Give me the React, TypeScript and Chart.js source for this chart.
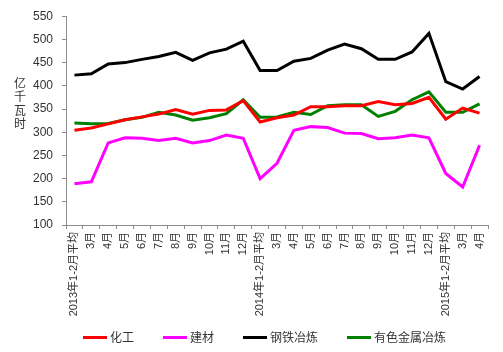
import React, { useEffect, useRef } from "react";
import { Chart, registerables } from "chart.js";

Chart.register(...registerables);

const categories: string[] = [
  "2013年1-2月平均", "3月", "4月", "5月", "6月", "7月", "8月", "9月", "10月", "11月", "12月",
  "2014年1-2月平均", "3月", "4月", "5月", "6月", "7月", "8月", "9月", "10月", "11月", "12月",
  "2015年1-2月平均", "3月", "4月",
];

const chemical: number[] = [304, 309, 318, 327, 333, 339, 349, 339, 347, 348, 368, 322, 331, 337, 355, 355, 357, 357, 366, 359, 362, 375, 328, 352, 341];
const building: number[] = [189, 193, 277, 288, 287, 282, 287, 277, 282, 294, 287, 200, 233, 304, 312, 310, 298, 297, 286, 288, 294, 288, 211, 182, 272];
const steel: number[] = [423, 426, 447, 450, 457, 463, 472, 455, 471, 479, 496, 433, 433, 453, 459, 477, 490, 480, 457, 457, 473, 513, 409, 393, 420];
const nonferrous: number[] = [320, 318, 319, 327, 332, 343, 337, 326, 331, 340, 370, 332, 333, 343, 338, 357, 359, 359, 334, 345, 370, 387, 343, 343, 361];

const seriesNames: string[] = ["化工", "建材", "钢铁冶炼", "有色金属冶炼"];
const seriesColors: string[] = ["#ff0000", "#ff00ff", "#000000", "#008000"];
const yTitleChars: string[] = ["亿", "千", "瓦", "时"];

const Y_MIN = 100;
const Y_MAX = 550;
const Y_STEP = 50;

const FONT_LATIN = "'Liberation Sans', 'Noto Sans CJK SC', sans-serif";
const FONT_CJK = "'Noto Sans CJK SC', sans-serif";
const AXIS_COLOR = "#8c8c8c";
const TEXT_COLOR = "#333333";

const yTitlePlugin = {
  id: "yTitleStacked",
  afterDraw(chart: any) {
    const ctx = chart.ctx;
    ctx.save();
    ctx.font = `12px ${FONT_CJK}`;
    ctx.fillStyle = TEXT_COLOR;
    ctx.textAlign = "center";
    ctx.textBaseline = "middle";
    yTitleChars.forEach((c, i) => {
      ctx.fillText(c, 20, 83 + i * 13.6);
    });
    ctx.restore();
  },
};

const legendPlugin = {
  id: "customLegend",
  afterDraw(chart: any) {
    const ctx = chart.ctx;
    ctx.save();
    ctx.font = `12px ${FONT_CJK}`;
    ctx.textAlign = "left";
    ctx.textBaseline = "middle";
    const y = 337.5;
    let x = 83;
    chart.data.datasets.forEach((ds: any) => {
      ctx.fillStyle = ds.borderColor;
      ctx.fillRect(x, y - 1.5, 24, 3);
      ctx.fillStyle = TEXT_COLOR;
      ctx.fillText(ds.label, x + 27, y);
      x += 27 + ctx.measureText(ds.label).width + 29;
    });
    ctx.restore();
  },
};

export default function App() {
  const ref = useRef<HTMLCanvasElement | null>(null);

  useEffect(() => {
    if (!ref.current) return;
    const data = [chemical, building, steel, nonferrous];
    const chart = new Chart(ref.current, {
      type: "line",
      data: {
        labels: categories,
        datasets: seriesNames.map((name, i) => ({
          label: name,
          data: data[i],
          borderColor: seriesColors[i],
          backgroundColor: seriesColors[i],
          borderWidth: 3,
          pointRadius: 0,
          tension: 0,
          fill: false,
        })),
      },
      options: {
        responsive: false,
        animation: false,
        layout: { padding: { left: 0, right: 15, top: 15, bottom: 0 } },
        plugins: {
          tooltip: { enabled: false },
          legend: { display: false },
        },
        scales: {
          x: {
            type: "category",
            offset: true,
            grid: {
              display: true,
              offset: true,
              drawOnChartArea: false,
              drawTicks: true,
              tickLength: 4,
              color: AXIS_COLOR,
            },
            border: { display: true, color: AXIS_COLOR, width: 1 },
            ticks: {
              autoSkip: false,
              maxRotation: 90,
              minRotation: 90,
              padding: 3,
              color: TEXT_COLOR,
              font: { size: 11, family: FONT_LATIN },
            },
            afterFit: (scale: any) => {
              scale.height = 352 - 225;
            },
          },
          y: {
            min: Y_MIN,
            max: Y_MAX,
            grid: {
              display: true,
              drawOnChartArea: false,
              drawTicks: true,
              tickLength: 4,
              color: AXIS_COLOR,
            },
            border: { display: true, color: AXIS_COLOR, width: 1 },
            ticks: {
              stepSize: Y_STEP,
              padding: 9,
              color: TEXT_COLOR,
              font: { size: 12, family: FONT_LATIN },
            },
            afterFit: (scale: any) => {
              scale.width = 66;
            },
          },
        },
      },
      plugins: [yTitlePlugin, legendPlugin],
    });
    return () => chart.destroy();
  }, []);

  return (
    <div style={{ position: "absolute", left: 0, top: 0, width: 503, height: 352, background: "#fff" }}>
      <canvas ref={ref} width={503} height={352} />
    </div>
  );
}
